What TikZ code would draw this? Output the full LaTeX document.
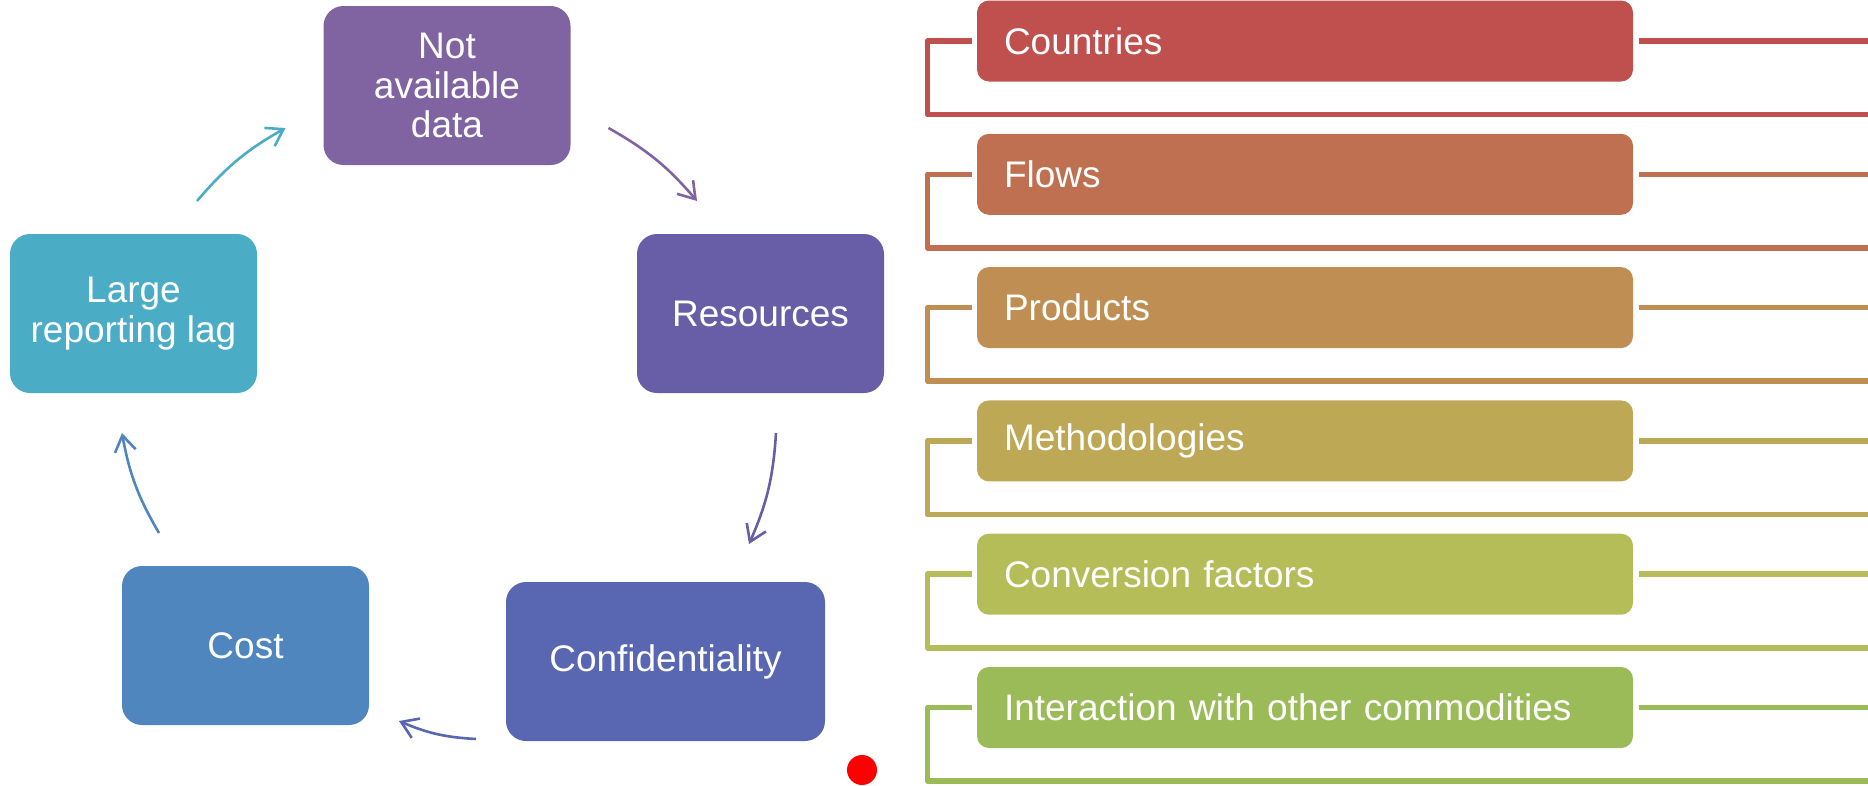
\documentclass[tikz,border=0pt]{standalone}
\usepackage{fontspec}
\setmainfont{Liberation Sans}
\usetikzlibrary{arrows.meta}
\definecolor{cNad}{HTML}{8064A2}
\definecolor{cRes}{HTML}{685EA8}
\definecolor{cConf}{HTML}{5967B2}
\definecolor{cCost}{HTML}{4F86BE}
\definecolor{cLag}{HTML}{4BACC6}
\definecolor{cR0}{HTML}{C0504D}
\definecolor{cR1}{HTML}{BF7051}
\definecolor{cR2}{HTML}{BF8E52}
\definecolor{cR3}{HTML}{BDA955}
\definecolor{cR4}{HTML}{B5BD59}
\definecolor{cR5}{HTML}{9BBB59}
\begin{document}
\begin{tikzpicture}[x=1pt,y=1pt,
  cyc/.style={rounded corners=20pt, minimum width=247pt, minimum height=159pt, inner sep=0pt, outer sep=0pt, text=white, align=center, font=\fontsize{37}{39.5}\selectfont},
  bar/.style={rounded corners=12pt, minimum width=656pt, minimum height=81pt, text width=602pt, inner xsep=27pt, inner ysep=0pt, outer sep=5.5pt, align=left, text=white, font=\fontsize{37}{40}\selectfont},
  cyarrow/.style={line width=2.6pt, -{Straight Barb[length=16pt,width=21pt]}},
  bracket/.style={line width=5.6pt, line join=round}
]
\useasboundingbox (0,0) rectangle (1868,-785);

% cycle
\node[cyc, fill=cNad] (nad) at (447,-85.5) {Not\\available\\data};
\node[cyc, fill=cRes] (res) at (760.5,-313.5) {Resources};
\node[cyc, fill=cConf, minimum width=319pt] (conf) at (665.5,-661.5) {Confidentiality};
\node[cyc, fill=cCost] (cost) at (245.5,-645.5) {Cost};
\node[cyc, fill=cLag] (lag) at (133.5,-313.5) {Large\\reporting lag};

\draw[cyarrow, draw=cLag] ([shift={(63.5,33)}]lag.north) to[bend left=10] ([shift={(-38,-42.5)}]nad.west);
\draw[cyarrow, draw=cNad] ([shift={(38,-42.5)}]nad.east) to[bend left=10] ([shift={(-63.5,33)}]res.north);
\draw[cyarrow, draw=cRes] ([shift={(15.5,-40)}]res.south) to[bend left=10] ([shift={(83.5,38)}]conf.north);
\draw[cyarrow, draw=cConf] ([shift={(-30,-77.5)}]conf.west) to[bend left=10] ([shift={(30,-75.5)}]cost.east);
\draw[cyarrow, draw=cCost] ([shift={(-86.5,33)}]cost.north) to[bend left=10] ([shift={(-11.5,-40)}]lag.south);

\node[circle, fill=red, minimum size=30pt, inner sep=0pt] (dot) at (862,-770) {};

% list
\foreach \i/\txt/\col in {0/Countries/cR0, 1/Flows/cR1, 2/Products/cR2, 3/Methodologies/cR3, 4/Conversion factors/cR4, 5/Interaction with other commodities/cR5} {
  \pgfmathsetmacro\yc{-(41+133.3*\i)}
  \pgfmathsetmacro\yb{-(114.5+133.3*\i)}
  \node[bar, fill=\col] (r\i) at (1305,\yc) {\txt};
  \coordinate (r\i e) at (1880,\yc);
  \coordinate (r\i b) at (1880,\yb);
  \draw[bracket, draw=\col] (r\i.west) -- ++(-44,0) |- (r\i b);
  \draw[bracket, draw=\col] (r\i.east) -- (r\i e);
}
\end{tikzpicture}
\end{document}
